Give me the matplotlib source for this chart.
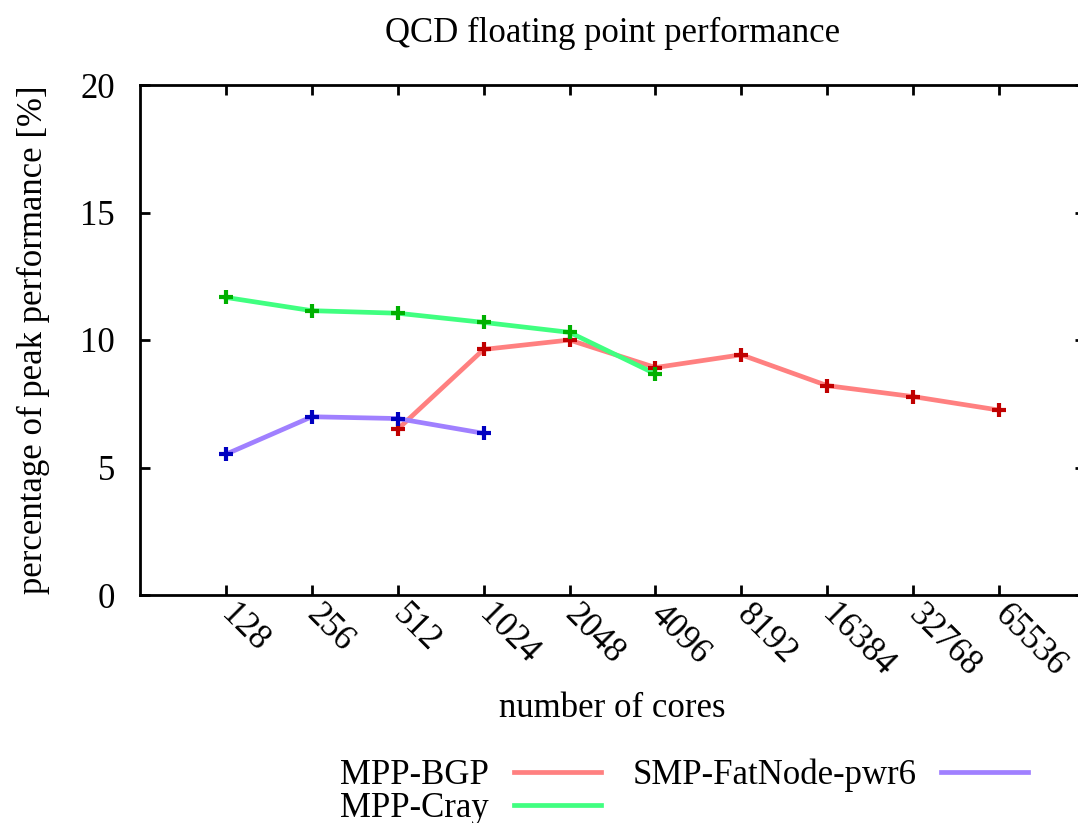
import matplotlib
matplotlib.use('Agg')
import matplotlib.pyplot as plt

plt.rcParams['font.family'] = ['Liberation Serif', 'DejaVu Serif']

# data
cores = ['128', '256', '512', '1024', '2048', '4096', '8192', '16384', '32768', '65536']
bgp_idx = [2, 3, 4, 5, 6, 7, 8, 9]
bgp_val = [6.50, 9.63, 10.0, 8.92, 9.42, 8.21, 7.78, 7.25]
cray_idx = [0, 1, 2, 3, 4, 5]
cray_val = [11.67, 11.15, 11.05, 10.69, 10.30, 8.67]
pwr6_idx = [0, 1, 2, 3]
pwr6_val = [5.52, 6.99, 6.92, 6.34]

fig = plt.figure(figsize=(10.78, 8.23), dpi=100)
ax = fig.add_axes([140 / 1078, 1 - 595 / 823, (1085 - 140) / 1078, (595 - 85) / 823])

fs = 25
l1, = ax.plot(bgp_idx, bgp_val, color='#ff8080', lw=3.4, label='MPP-BGP', zorder=2)
l2, = ax.plot(cray_idx, cray_val, color='#40ff80', lw=3.4, label='MPP-Cray', zorder=2)
l3, = ax.plot(pwr6_idx, pwr6_val, color='#a080ff', lw=3.4, label='SMP-FatNode-pwr6', zorder=2)
ax.plot(bgp_idx, bgp_val, ls='none', marker='+', ms=10.5, mew=3, color='#c00000', zorder=3)
ax.plot(cray_idx, cray_val, ls='none', marker='+', ms=10.5, mew=3, color='#00b000', zorder=3)
ax.plot(pwr6_idx, pwr6_val, ls='none', marker='+', ms=10.5, mew=3, color='#0000c0', zorder=3)

ax.set_xlim(-1, 10)
ax.set_ylim(0, 20)
ax.set_yticks([0, 5, 10, 15, 20])
ax.set_xticks(range(len(cores)))
ax.set_xticklabels(cores, rotation=-45, ha='left', va='center', rotation_mode='anchor', fontsize=fs)
ax.tick_params(axis='y', labelsize=fs, pad=18)
ax.tick_params(axis='x', pad=11)
ax.tick_params(direction='in', length=7, width=2, top=True, right=True)
for s in ax.spines.values():
    s.set_linewidth(2)

ax.set_title('QCD floating point performance', fontsize=fs, pad=31)
ax.set_xlabel('number of cores', fontsize=fs, labelpad=6)
ax.set_ylabel('percentage of peak performance [%]', fontsize=fs, labelpad=22)

fig.legend(handles=[l1, l2, l3], ncol=2, markerfirst=False, frameon=False, fontsize=fs,
           loc='lower left', bbox_to_anchor=(309 / 1078, -0.040), handlelength=2.5,
           columnspacing=0.9, labelspacing=0.0, handletextpad=0.72)

fig.savefig('out.png', dpi=100)
